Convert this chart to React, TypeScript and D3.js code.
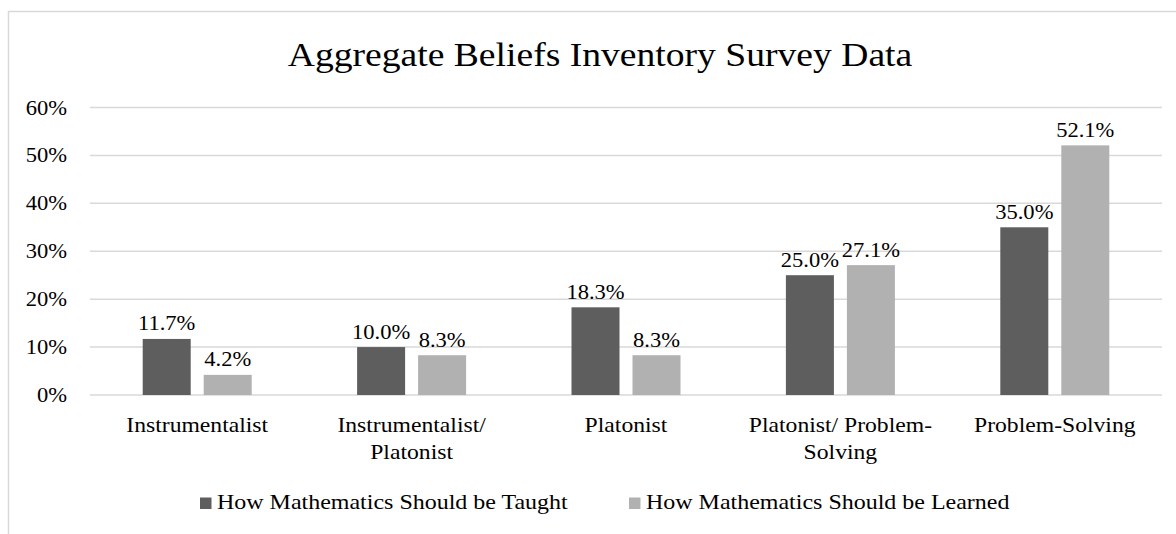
import React from "react";
import * as d3 from "d3";

const categories = [
  ["Instrumentalist"],
  ["Instrumentalist/", "Platonist"],
  ["Platonist"],
  ["Platonist/ Problem-", "Solving"],
  ["Problem-Solving"],
];
const categoryKeys = ["Instrumentalist", "Instrumentalist/ Platonist", "Platonist", "Platonist/ Problem-Solving", "Problem-Solving"];
const seriesNames = ["How Mathematics Should be Taught", "How Mathematics Should be Learned"];
const taught = [0.117, 0.1, 0.183, 0.25, 0.35];
const learned = [0.042, 0.083, 0.083, 0.271, 0.521];
const yTicks = [0, 0.1, 0.2, 0.3, 0.4, 0.5, 0.6];
const title = "Aggregate Beliefs Inventory Survey Data";

const W = 1176;
const H = 534;
const FONT = '"Liberation Serif", "Times New Roman", serif';
const SX = 1.1;
const colors = ["#5e5e5e", "#b1b1b1"];

function T({ x, y, anchor = "middle", size = 21, children }: any) {
  return (
    <text
      transform={`translate(${x},${y}) scale(${SX},1)`}
      textAnchor={anchor}
      fontFamily={FONT}
      fontSize={size}
      fill="#000"
    >
      {children}
    </text>
  );
}

export default function App() {
  const y = d3.scaleLinear().domain([0, 0.6]).range([395, 107.5]);
  const x0 = d3.scaleBand().domain(categoryKeys).range([90, 1162]).padding(0);
  const x1 = d3
    .scaleBand()
    .domain(seriesNames)
    .range([0, x0.bandwidth()])
    .paddingInner(0.213)
    .paddingOuter(0.864);
  const series = [taught, learned];
  const fmt = d3.format(".1%");

  return (
    <div style={{ position: "absolute", left: 0, top: 0 }}>
      <svg width={W} height={H} style={{ display: "block", background: "#fff" }}>
        <rect x={8.5} y={11.5} width={1200} height={600} fill="#fff" stroke="#d9d9d9" strokeWidth={1.5} />
        <T x={600} y={66} size={34.2}>{title}</T>
        {yTicks.map((t) => (
          <g key={t}>
            <line x1={90} x2={1162} y1={y(t)} y2={y(t)} stroke="#d9d9d9" strokeWidth={1.5} />
            <T x={67} y={y(t) + 7} anchor="end" size={20.5}>{d3.format(".0%")(t)}</T>
          </g>
        ))}
        {categoryKeys.map((c, i) => (
          <g key={c}>
            {series.map((vals, si) => {
              const bx = (x0(c) as number) + (x1(seriesNames[si]) as number);
              const bw = x1.bandwidth();
              const v = vals[i];
              return (
                <g key={si}>
                  <rect x={bx} y={y(v)} width={bw} height={y(0) - y(v)} fill={colors[si]} />
                  <T x={bx + bw / 2} y={y(v) - 8.5} size={20.5}>{fmt(v)}</T>
                </g>
              );
            })}
            {categories[i].map((line, li) => (
              <T key={li} x={(x0(c) as number) + x0.bandwidth() / 2} y={432 + li * 27} size={21.5}>
                {line}
              </T>
            ))}
          </g>
        ))}
        {[
          { sq: 200, tx: 217 },
          { sq: 629, tx: 646 },
        ].map((p, i) => (
          <g key={i}>
            <rect x={p.sq} y={497.5} width={11.5} height={11.5} fill={colors[i]} />
            <T x={p.tx} y={508.5} anchor="start" size={21.8}>{seriesNames[i]}</T>
          </g>
        ))}
      </svg>
    </div>
  );
}
